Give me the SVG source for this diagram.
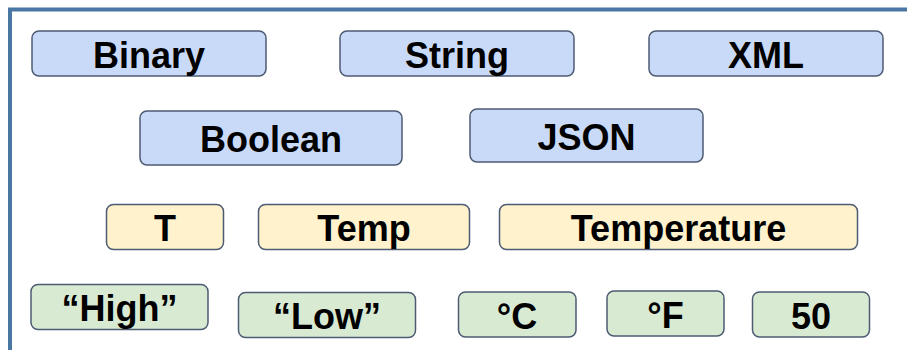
<svg xmlns="http://www.w3.org/2000/svg" width="907" height="350" viewBox="0 0 907 350">
  <style>
    .frame { fill: none; stroke: #4a76a3; stroke-width: 4; }
    .box { stroke: #4d5b73; stroke-width: 1.5; }
    .blue { fill: #c9daf8; }
    .yellow { fill: #fff2cc; }
    .green { fill: #d9ead3; }
    .lbl { font-family: "Liberation Sans", Arial, sans-serif; font-weight: bold; font-size: 36px; fill: #000; text-anchor: middle; }
  </style>
  <rect width="907" height="350" fill="#ffffff"/>
  <!-- outer frame, open to the right and bottom edges -->
  <rect class="frame" x="10" y="9.5" width="920" height="360"/>

  <g id="connectors"></g>

  <!-- data formats -->
  <g id="binary">
    <rect class="box blue" x="32" y="31" width="234" height="45" rx="7"/>
    <text class="lbl" x="149" y="67.5">Binary</text>
  </g>
  <g id="string">
    <rect class="box blue" x="340" y="31" width="234" height="45" rx="7"/>
    <text class="lbl" x="457" y="67.5">String</text>
  </g>
  <g id="xml">
    <rect class="box blue" x="649" y="31" width="234" height="45" rx="7"/>
    <text class="lbl" x="766" y="67.5">XML</text>
  </g>
  <g id="boolean">
    <rect class="box blue" x="140" y="111" width="262" height="54" rx="7"/>
    <text class="lbl" x="271" y="152">Boolean</text>
  </g>
  <g id="json">
    <rect class="box blue" x="470" y="109" width="233" height="53" rx="7"/>
    <text class="lbl" x="586.5" y="149.5">JSON</text>
  </g>

  <!-- names -->
  <g id="t">
    <rect class="box yellow" x="106.5" y="204.5" width="117" height="45" rx="7"/>
    <text class="lbl" x="165" y="241">T</text>
  </g>
  <g id="temp">
    <rect class="box yellow" x="258.5" y="204.5" width="211" height="45" rx="7"/>
    <text class="lbl" x="364" y="241">Temp</text>
  </g>
  <g id="temperature">
    <rect class="box yellow" x="499.5" y="204.5" width="358" height="45" rx="7"/>
    <text class="lbl" x="678.5" y="241">Temperature</text>
  </g>

  <!-- values -->
  <g id="high">
    <rect class="box green" x="31" y="284.5" width="177" height="45" rx="7"/>
    <text class="lbl" x="119.5" y="321">“High”</text>
  </g>
  <g id="low">
    <rect class="box green" x="238.5" y="292.5" width="177" height="45" rx="7"/>
    <text class="lbl" x="327" y="329">“Low”</text>
  </g>
  <g id="celsius">
    <rect class="box green" x="458.5" y="292" width="117.5" height="45" rx="7"/>
    <text class="lbl" x="517" y="328.5">°C</text>
  </g>
  <g id="fahrenheit">
    <rect class="box green" x="607" y="291" width="117" height="45" rx="7"/>
    <text class="lbl" x="665.5" y="327.5">°F</text>
  </g>
  <g id="fifty">
    <rect class="box green" x="752.5" y="292" width="117" height="45" rx="7"/>
    <text class="lbl" x="811" y="328.5">50</text>
  </g>
</svg>
